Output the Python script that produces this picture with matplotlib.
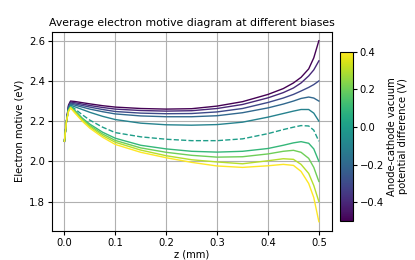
import numpy as np
import matplotlib
matplotlib.use('Agg')
import matplotlib.pyplot as plt

plt.rcParams['font.size'] = 7.2

# --- data
biases = [-0.5, -0.4, -0.3, -0.2, -0.1, 0.0, 0.1, 0.2, 0.3, 0.4]
z = [0, 0.004, 0.008, 0.012, 0.02, 0.035, 0.05, 0.075, 0.1, 0.15, 0.2,
     0.25, 0.3, 0.35, 0.4, 0.43, 0.45, 0.465, 0.48, 0.49, 0.5]

m_m05 = [2.10, 2.20, 2.28, 2.300, 2.298, 2.292, 2.286, 2.277, 2.270, 2.263, 2.260,
         2.262, 2.275, 2.297, 2.333, 2.362, 2.390, 2.418, 2.460, 2.515, 2.60]
m_m04 = [2.10, 2.20, 2.275, 2.295, 2.292, 2.285, 2.278, 2.268, 2.260, 2.253, 2.250,
         2.252, 2.263, 2.283, 2.316, 2.342, 2.365, 2.390, 2.425, 2.455, 2.50]
m_m03 = [2.10, 2.20, 2.27, 2.290, 2.286, 2.278, 2.270, 2.258, 2.248, 2.240, 2.237,
         2.238, 2.246, 2.263, 2.293, 2.315, 2.333, 2.350, 2.368, 2.382, 2.40]
m_m02 = [2.10, 2.20, 2.265, 2.285, 2.280, 2.270, 2.260, 2.247, 2.236, 2.226, 2.222,
         2.222, 2.227, 2.242, 2.266, 2.285, 2.300, 2.313, 2.320, 2.315, 2.30]
m_m01 = [2.10, 2.20, 2.26, 2.280, 2.272, 2.258, 2.244, 2.224, 2.208, 2.190, 2.182,
         2.180, 2.183, 2.195, 2.220, 2.238, 2.250, 2.258, 2.258, 2.240, 2.20]
m_p00 = [2.10, 2.20, 2.258, 2.275, 2.262, 2.232, 2.205, 2.170, 2.143, 2.122, 2.110,
         2.103, 2.103, 2.112, 2.138, 2.158, 2.170, 2.178, 2.176, 2.155, 2.10]
m_p01 = [2.10, 2.20, 2.255, 2.272, 2.255, 2.215, 2.185, 2.145, 2.115, 2.080, 2.062,
         2.050, 2.046, 2.050, 2.064, 2.080, 2.092, 2.098, 2.090, 2.062, 2.00]
m_p02 = [2.10, 2.20, 2.253, 2.270, 2.250, 2.210, 2.178, 2.136, 2.104, 2.067, 2.045,
         2.030, 2.021, 2.023, 2.037, 2.050, 2.055, 2.045, 2.015, 1.970, 1.90]
m_p03 = [2.10, 2.20, 2.25, 2.268, 2.246, 2.205, 2.172, 2.128, 2.095, 2.056, 2.028,
         2.008, 1.997, 1.988, 2.003, 2.013, 2.010, 1.985, 1.940, 1.880, 1.80]
m_p04 = [2.10, 2.20, 2.248, 2.266, 2.242, 2.200, 2.165, 2.120, 2.084, 2.045, 2.018,
         1.995, 1.977, 1.970, 1.978, 1.985, 1.980, 1.950, 1.890, 1.820, 1.70]

motives = [m_m05, m_m04, m_m03, m_m02, m_m01, m_p00, m_p01, m_p02, m_p03, m_p04]

fig = plt.figure(figsize=(4.15, 2.6), dpi=100)
ax = fig.add_axes([0.1246, 0.1127, 0.6744, 0.7653])
cax = fig.add_axes([0.819, 0.15, 0.031, 0.651])

cmap = plt.get_cmap('viridis')
norm = matplotlib.colors.Normalize(vmin=-0.5, vmax=0.4)

for V, m in zip(biases, motives):
    ls = '--' if abs(V) < 1e-9 else '-'
    ax.plot(z, m, ls, c=cmap(norm(V)), lw=1.0)

ax.set_xticks([0.0, 0.1, 0.2, 0.3, 0.4, 0.5])
ax.set_yticks([1.8, 2.0, 2.2, 2.4, 2.6])
ax.grid(True)
ax.set_xlabel('z (mm)', labelpad=1)
ax.set_ylabel('Electron motive (eV)', labelpad=3)
ax.set_title('Average electron motive diagram at different biases', fontsize=7.8, pad=4)
ax.tick_params(pad=2, length=3)

sm = matplotlib.cm.ScalarMappable(norm=norm, cmap=cmap)
cb = fig.colorbar(sm, cax=cax)
cb.set_ticks([-0.4, -0.2, 0.0, 0.2, 0.4])
cb.ax.tick_params(pad=2, length=3)
cb.set_label('Anode-cathode vacuum\npotential difference (V)', labelpad=2)

fig.savefig('out.png', dpi=100)
